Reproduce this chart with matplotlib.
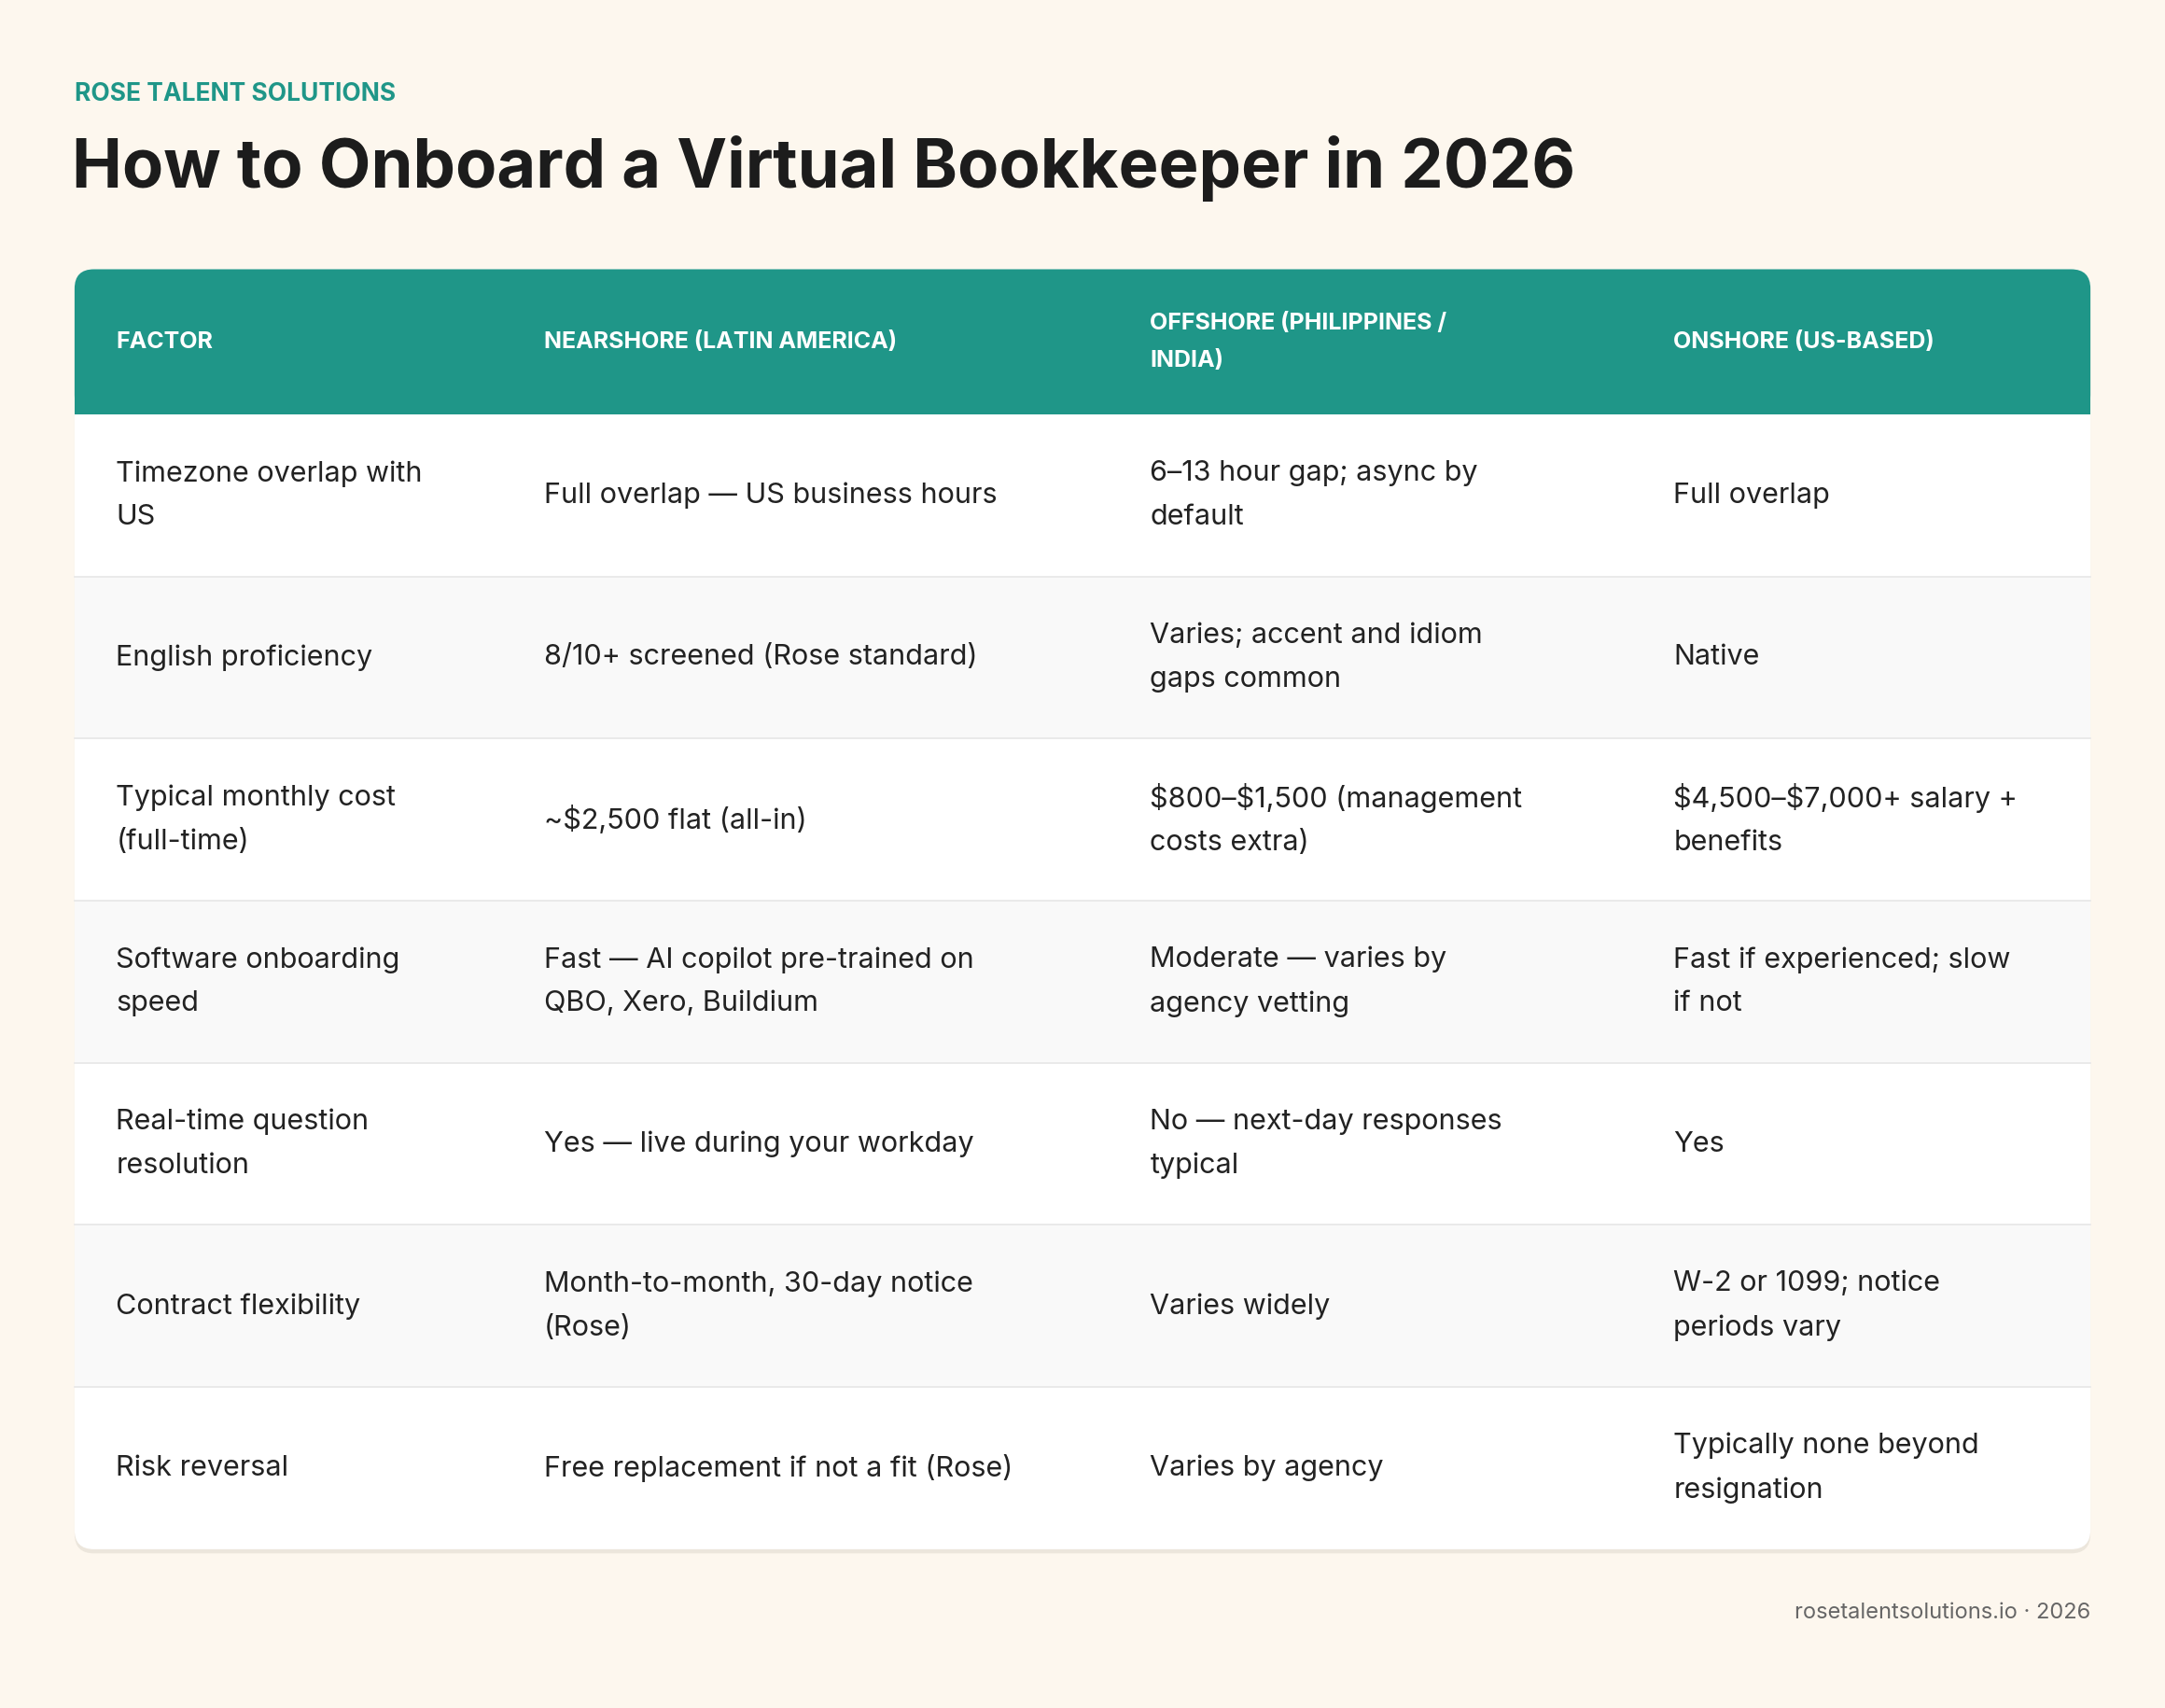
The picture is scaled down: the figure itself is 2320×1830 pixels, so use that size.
import matplotlib
matplotlib.use("Agg")
import matplotlib.pyplot as plt
from matplotlib.patches import FancyBboxPatch, Rectangle

plt.rcParams['font.family'] = ['Inter', 'DejaVu Sans']
plt.rcParams['text.parse_math'] = False

brand = "ROSE TALENT SOLUTIONS"
title = "How to Onboard a Virtual Bookkeeper in 2026"
footer = "rosetalentsolutions.io · 2026"
headers = ["FACTOR", "NEARSHORE (LATIN AMERICA)", "OFFSHORE (PHILIPPINES /\nINDIA)", "ONSHORE (US-BASED)"]
factors = ["Timezone overlap with\nUS", "English proficiency", "Typical monthly cost\n(full-time)",
           "Software onboarding\nspeed", "Real-time question\nresolution", "Contract flexibility", "Risk reversal"]
nearshore = ["Full overlap — US business hours", "8/10+ screened (Rose standard)", "~$2,500 flat (all-in)",
             "Fast — AI copilot pre-trained on\nQBO, Xero, Buildium", "Yes — live during your workday",
             "Month-to-month, 30-day notice\n(Rose)", "Free replacement if not a fit (Rose)"]
offshore = ["6–13 hour gap; async by\ndefault", "Varies; accent and idiom\ngaps common", "$800–$1,500 (management\ncosts extra)",
            "Moderate — varies by\nagency vetting", "No — next-day responses\ntypical", "Varies widely", "Varies by agency"]
onshore = ["Full overlap", "Native", "$4,500–$7,000+ salary +\nbenefits", "Fast if experienced; slow\nif not", "Yes",
           "W-2 or 1099; notice\nperiods vary", "Typically none beyond\nresignation"]

W, H = 1568, 1237
fig = plt.figure(figsize=(23.2, 18.3), dpi=100)
fig.patch.set_facecolor("#fdf7ee")
ax = fig.add_axes([0, 0, 1, 1])
ax.set_xlim(0, W); ax.set_ylim(H, 0); ax.axis("off")

teal = "#1f9688"
ax.text(54, 68, brand, color=teal, fontsize=19, fontweight="bold", va="center")
ax.text(52, 122, title, color="#1c1c1c", fontsize=52, fontweight="bold", va="center")

x0, x1, y0, yh, y1 = 54, 1514, 195, 300, 1122
ax.add_patch(FancyBboxPatch((x0, y0 + 3), x1 - x0, y1 - y0, boxstyle="round,pad=0,rounding_size=14",
                            fc="#ece6dc", ec="none", zorder=1))
ax.add_patch(FancyBboxPatch((x0, y0), x1 - x0, y1 - y0, boxstyle="round,pad=0,rounding_size=14",
                            fc="white", ec="none", zorder=2))
ax.add_patch(FancyBboxPatch((x0, y0), x1 - x0, yh - y0, boxstyle="round,pad=0,rounding_size=14",
                            fc=teal, ec="none", zorder=3))
ax.add_patch(Rectangle((x0, y0 + 40), x1 - x0, yh - y0 - 40, fc=teal, ec="none", zorder=3))

colx = [84, 394, 833, 1212]
for h, cx in zip(headers, colx):
    ax.text(cx, (y0 + yh) / 2, h, color="white", fontsize=18, fontweight="bold", va="center",
            linespacing=1.95, zorder=4)

n = len(factors)
rh = (y1 - yh) / n
for i in range(n):
    top = yh + i * rh
    if i % 2 == 1:
        ax.add_patch(Rectangle((x0, top), x1 - x0, rh, fc="#f9f9f9", ec="none", zorder=3))
    if i > 0:
        ax.plot([x0, x1], [top, top], color="#e6e6e6", lw=1.2, zorder=4)
    for cx, txt in zip(colx, [factors[i], nearshore[i], offshore[i], onshore[i]]):
        ax.text(cx, top + rh / 2, txt, color="#222222", fontsize=22, va="center", linespacing=1.85, zorder=5)

ax.text(1514, 1168, footer, color="#666666", fontsize=17, ha="right", va="center")
fig.savefig("out.png", dpi=100, facecolor=fig.get_facecolor())
